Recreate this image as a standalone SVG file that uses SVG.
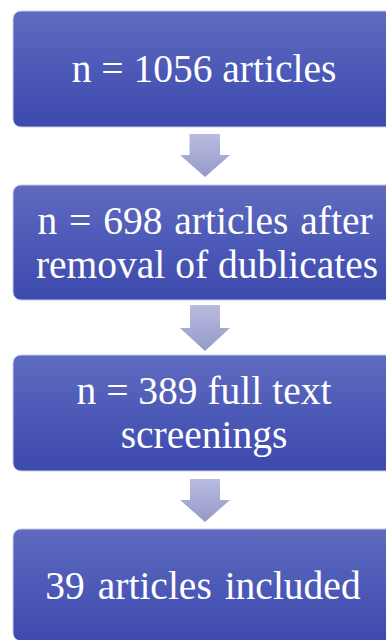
<svg xmlns="http://www.w3.org/2000/svg" width="386" height="640" viewBox="0 0 386 640">
  <defs>
    <linearGradient id="boxGrad" x1="0" y1="0" x2="0" y2="1">
      <stop offset="0" stop-color="#5f6bbf"/>
      <stop offset="0.55" stop-color="#4b58b6"/>
      <stop offset="1" stop-color="#3d4aad"/>
    </linearGradient>
    <linearGradient id="arrowGrad" x1="0" y1="0" x2="0" y2="1">
      <stop offset="0" stop-color="#b9bcdf"/>
      <stop offset="1" stop-color="#9599c9"/>
    </linearGradient>
  </defs>
  <style>
    .box { fill: url(#boxGrad); stroke: #c9cbe6; stroke-width: 1; }
    .lbl { font-family: "Liberation Serif", serif; font-size: 39.5px; fill: #ffffff; text-anchor: middle; }
    .arrow { fill: url(#arrowGrad); }
  </style>
  <rect width="386" height="640" fill="#ffffff"/>
  <g id="connectors">
    <path class="arrow" d="M189.5,134 H220 V155 H230 L205,177 L180,155 H189.5 Z"/>
    <path class="arrow" d="M190,305 H220 V328 H230 L205,351 L180,328 H190 Z"/>
    <path class="arrow" d="M190,479 H220 V500 H230 L205,522 L180,500 H190 Z"/>
  </g>
  <g id="node1">
    <rect class="box" x="13" y="11" width="381" height="116" rx="8"/>
    <text class="lbl" x="204" y="82">n = 1056 articles</text>
  </g>
  <g id="node2">
    <rect class="box" x="13" y="185" width="381" height="115" rx="8"/>
    <text class="lbl" x="205" y="234" word-spacing="2">n = 698 articles after</text>
    <text class="lbl" x="207" y="278">removal of dublicates</text>
  </g>
  <g id="node3">
    <rect class="box" x="13" y="355" width="381" height="116" rx="8"/>
    <text class="lbl" x="204" y="404">n = 389 full text</text>
    <text class="lbl" x="204" y="448">screenings</text>
  </g>
  <g id="node4">
    <rect class="box" x="13" y="529" width="381" height="112" rx="8"/>
    <text class="lbl" x="203" y="599" word-spacing="3">39 articles included</text>
  </g>
</svg>
